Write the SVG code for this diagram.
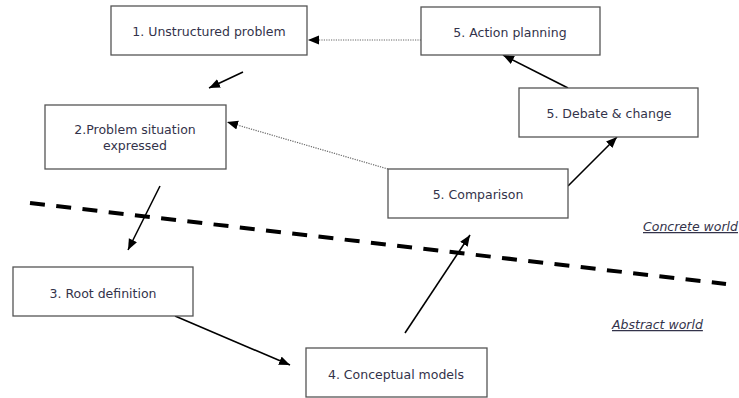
<svg xmlns="http://www.w3.org/2000/svg" width="739" height="398" viewBox="0 0 739 398">
<style>
.box{fill:#fff;stroke:#555;stroke-width:1.3}
.lbl{font-family:"DejaVu Sans",Verdana,sans-serif;font-size:12.5px;fill:#33334a;text-anchor:middle}
.world{font-family:"DejaVu Sans",Verdana,sans-serif;font-size:12.5px;font-style:italic;fill:#33334a;text-decoration:underline}
.solid{stroke:#000;stroke-width:1.6;fill:none}
.dot{stroke:#666;stroke-width:1.2;stroke-dasharray:1.2 1.2;fill:none}
</style>
<defs>
<marker id="ah" markerUnits="userSpaceOnUse" markerWidth="12" markerHeight="10" refX="11" refY="4.5" orient="auto">
<path d="M0,0 L11,4.5 L0,9 z" fill="#000"/>
</marker>
</defs>
<rect width="739" height="398" fill="#fff"/>
<line x1="30" y1="203" x2="726" y2="284" stroke="#000" stroke-width="4" stroke-dasharray="15 11.4"/>
<g id="connectors">
<line class="dot" x1="421" y1="40" x2="308" y2="40" marker-end="url(#ah)"/>
<line class="dot" x1="388" y1="169" x2="227" y2="122" marker-end="url(#ah)"/>
<line class="solid" x1="243" y1="72" x2="209" y2="88" marker-end="url(#ah)"/>
<line class="solid" x1="160" y1="186" x2="128" y2="250" marker-end="url(#ah)"/>
<line class="solid" x1="175" y1="316" x2="290" y2="365" marker-end="url(#ah)"/>
<line class="solid" x1="405" y1="333" x2="470" y2="235" marker-end="url(#ah)"/>
<line class="solid" x1="568" y1="186" x2="617" y2="137" marker-end="url(#ah)"/>
<line class="solid" x1="568" y1="88" x2="503" y2="55" marker-end="url(#ah)"/>
</g>
<g id="n1"><rect class="box" x="111" y="6" width="196" height="49"/><text class="lbl" x="209" y="36">1. Unstructured problem</text></g>
<g id="n5a"><rect class="box" x="421" y="7" width="179" height="48"/><text class="lbl" x="510" y="37">5. Action planning</text></g>
<g id="n5d"><rect class="box" x="519" y="88" width="179" height="49"/><text class="lbl" x="609" y="118">5. Debate &amp; change</text></g>
<g id="n2"><rect class="box" x="45" y="105" width="181" height="64"/><text class="lbl" x="135" y="134">2.Problem situation</text><text class="lbl" x="135" y="150">expressed</text></g>
<g id="n5c"><rect class="box" x="388" y="169" width="180" height="49"/><text class="lbl" x="478" y="199">5. Comparison</text></g>
<g id="n3"><rect class="box" x="13" y="267" width="180" height="49"/><text class="lbl" x="103" y="298">3. Root definition</text></g>
<g id="n4"><rect class="box" x="306" y="348" width="181" height="49"/><text class="lbl" x="396" y="379">4. Conceptual models</text></g>
<text class="world" x="643" y="231">Concrete world</text>
<text class="world" x="612" y="329">Abstract world</text>
</svg>
